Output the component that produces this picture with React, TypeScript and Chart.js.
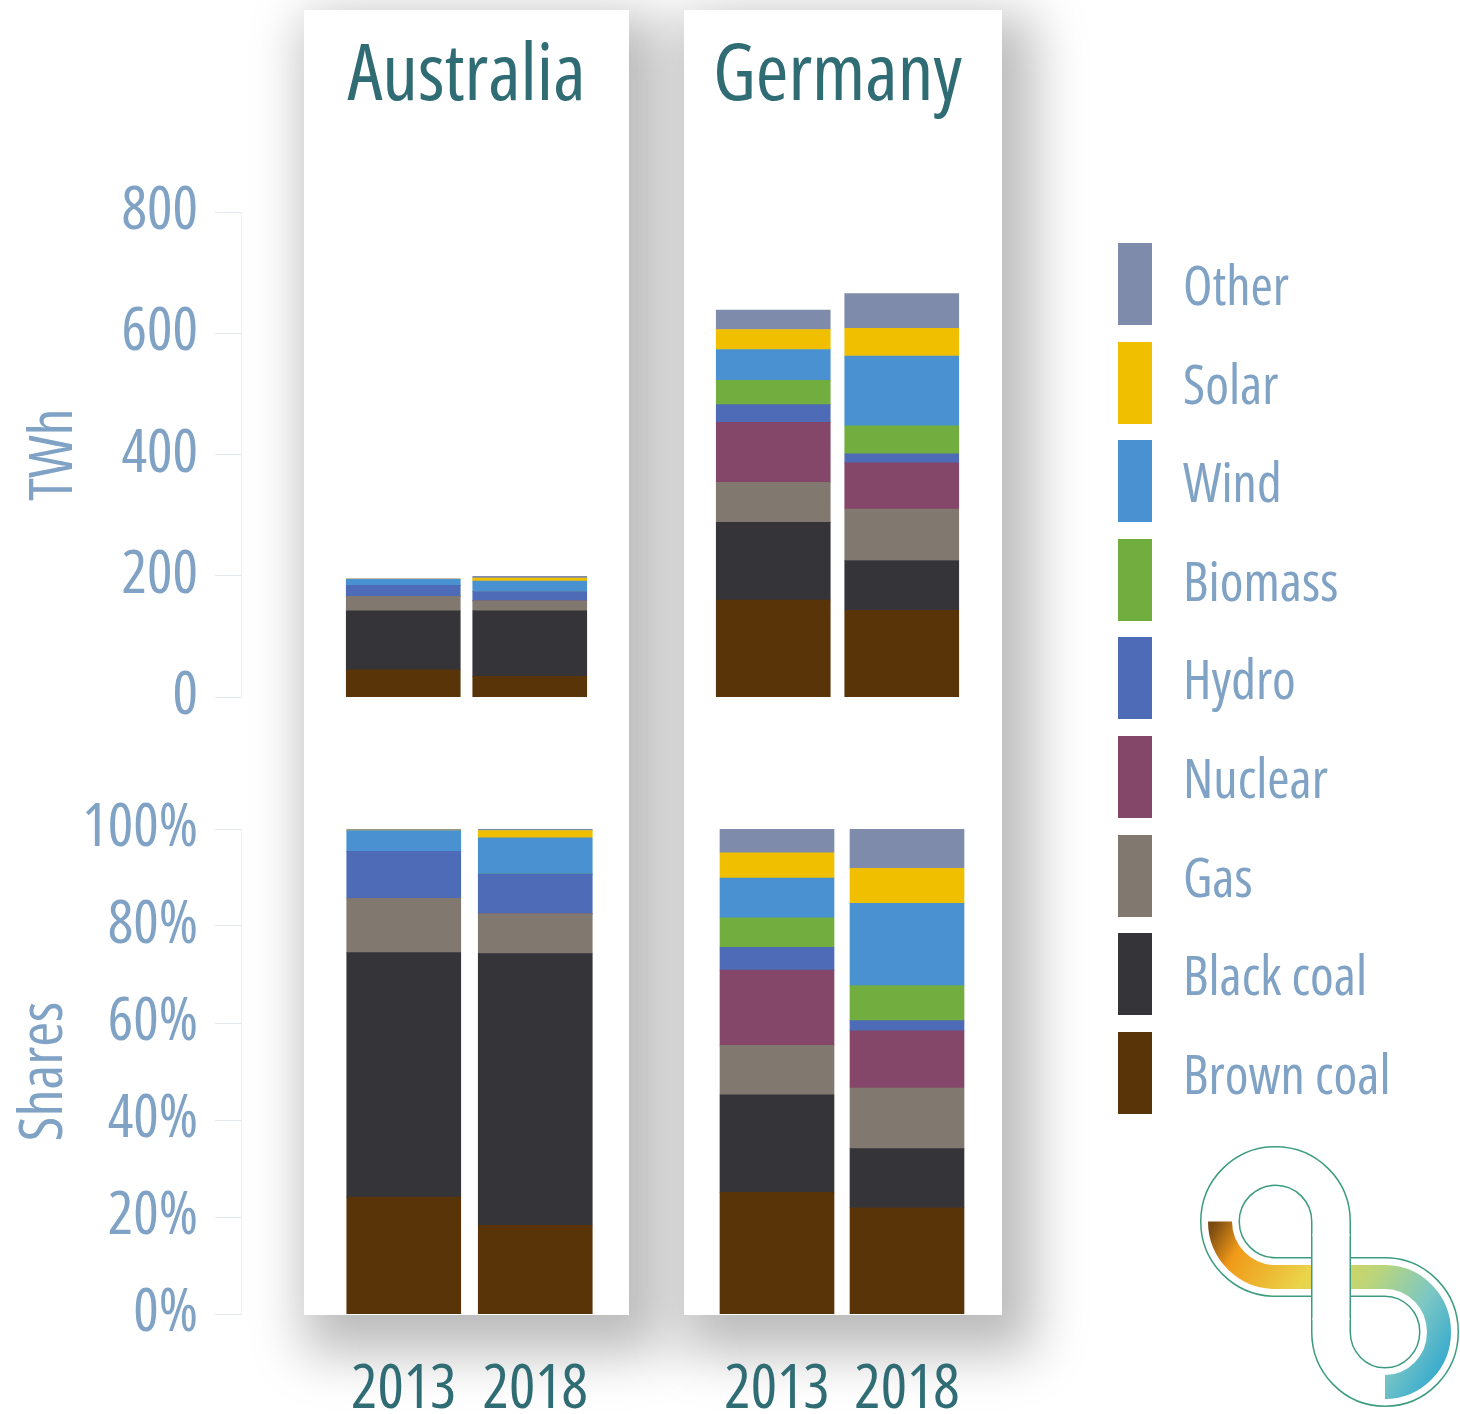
import React, { useEffect, useRef } from 'react';
import { Chart, registerables } from 'chart.js';

Chart.register(...registerables);

// ---------- data ----------
const YEARS = ['2013', '2018'];
// stacking order, bottom to top
const SOURCES = ['Brown coal', 'Black coal', 'Gas', 'Nuclear', 'Hydro', 'Biomass', 'Wind', 'Solar', 'Other'];
const COLORS = ['#5a3409', '#353539', '#817870', '#854769', '#4e6bb7', '#72ad3f', '#4a91d1', '#f0bf00', '#7f8bab'];

// generation in TWh, one value per source (same order as SOURCES)
const AUS_TWH_2013 = [45, 97, 24, 0, 18, 0, 10, 0.5, 0.5];
const AUS_TWH_2018 = [34, 108, 16.5, 0, 15.5, 0, 17, 5, 3];
const GER_TWH_2013 = [160, 128, 66, 99, 29, 40, 51, 33, 32];
const GER_TWH_2018 = [143, 82, 85, 76, 15, 46, 115, 46, 57];

// shares in %, one value per source
const AUS_SHARE_2013 = [24.1, 50.4, 11.2, 0, 9.7, 0, 4.3, 0.1, 0.2];
const AUS_SHARE_2018 = [18.3, 56.0, 8.2, 0, 8.2, 0, 7.5, 1.5, 0.3];
const GER_SHARE_2013 = [25.1, 20.1, 10.2, 15.5, 4.7, 6.1, 8.2, 5.2, 4.9];
const GER_SHARE_2018 = [21.9, 12.2, 12.5, 11.8, 2.1, 7.2, 17.0, 7.2, 8.1];

const TWH_MAX = 800;
const TWH_STEP = 200;
const SHARE_MAX = 100;
const SHARE_STEP = 20;

// ---------- styles ----------
const FAMILY = "'Open Sans', 'DejaVu Sans', sans-serif";
const STRETCH = 'condensed';
const AXIS_COLOR = '#7fa2c5';
const TEAL = '#2f6c73';

type Box = { left: number; top: number; width: number; height: number };

function ChartBox({ box, makeConfig }: { box: Box; makeConfig: () => any }) {
  const ref = useRef<HTMLCanvasElement>(null);
  useEffect(() => {
    const chart = new Chart(ref.current as HTMLCanvasElement, makeConfig());
    return () => chart.destroy();
  }, []);
  return (
    <div style={{ position: 'absolute', left: box.left, top: box.top, width: box.width, height: box.height }}>
      <canvas ref={ref} />
    </div>
  );
}

function datasets(v2013: number[], v2018: number[]) {
  return SOURCES.map((s, i) => ({
    label: s,
    data: [v2013[i], v2018[i]],
    backgroundColor: COLORS[i],
    borderWidth: 0,
    barThickness: 114,
  }));
}

function panelConfig(
  v2013: number[],
  v2018: number[],
  o: { max: number; title?: string; showX: boolean; pad: { left: number; right: number; top: number; bottom: number } }
) {
  return {
    type: 'bar',
    data: { labels: YEARS, datasets: datasets(v2013, v2018) },
    options: {
      animation: false,
      responsive: true,
      maintainAspectRatio: false,
      layout: { padding: o.pad, autoPadding: false },
      plugins: {
        legend: { display: false },
        tooltip: { enabled: false },
        title: o.title
          ? {
              display: true,
              text: o.title,
              color: TEAL,
              font: { family: FAMILY, size: 79, weight: STRETCH, lineHeight: 1.2 },
              padding: { top: 20, bottom: 87 },
            }
          : { display: false },
      },
      scales: {
        x: {
          stacked: true,
          display: o.showX,
          grid: { display: false },
          border: { display: false },
          ticks: {
            color: TEAL,
            font: { family: FAMILY, size: 62, weight: STRETCH, lineHeight: 1.2 },
            padding: 31,
            autoSkip: false,
            maxRotation: 0,
          },
          afterFit: (s: any) => {
            if (o.showX) s.height = 100;
          },
        },
        y: { stacked: true, display: false, min: 0, max: o.max },
      },
    },
  };
}

function axisConfig(o: { max: number; step: number; title: string; titlePad: number; pct: boolean; pad: { top: number; bottom: number } }) {
  return {
    type: 'bar',
    data: { labels: [], datasets: [] },
    options: {
      animation: false,
      responsive: true,
      maintainAspectRatio: false,
      layout: { padding: { left: 0, right: 0, top: o.pad.top, bottom: o.pad.bottom } },
      plugins: { legend: { display: false }, tooltip: { enabled: false } },
      scales: {
        x: { display: false },
        y: {
          min: 0,
          max: o.max,
          ticks: {
            stepSize: o.step,
            color: AXIS_COLOR,
            font: { family: FAMILY, size: 60, weight: STRETCH },
            padding: 17,
            callback: (v: any) => (o.pct ? v + '%' : String(v)),
          },
          grid: { color: '#e3e8ee', tickLength: 26, drawOnChartArea: false },
          border: { color: '#edf0f4', width: 1 },
          title: {
            display: true,
            text: o.title,
            color: AXIS_COLOR,
            font: { family: FAMILY, size: 60, weight: STRETCH, lineHeight: 1.2 },
            padding: { top: o.titlePad, bottom: 0 },
          },
          afterFit: (s: any) => {
            s.width = 241;
          },
        },
      },
    },
  };
}

function Legend() {
  const items = SOURCES.map((s, i) => ({ label: s, color: COLORS[i] })).reverse();
  return (
    <div style={{ position: 'absolute', left: 1118, top: 243 }}>
      {items.map((it) => (
        <div key={it.label} style={{ display: 'flex', alignItems: 'center', height: 82, marginBottom: 16.6 }}>
          <div style={{ width: 34, height: 82, background: it.color }} />
          <div
            style={{
              marginLeft: 31,
              fontFamily: FAMILY,
              fontStretch: STRETCH,
              fontSize: 54,
              color: AXIS_COLOR,
              lineHeight: 1,
              whiteSpace: 'nowrap',
            }}
          >
            {it.label}
          </div>
        </div>
      ))}
    </div>
  );
}

function Logo() {
  const loop =
    'M 1275.5 1277 L 1385 1277 A 54 55 0 1 1 1331 1332 L 1331 1221.5 A 55.5 55.5 0 1 0 1275.5 1277 Z';
  const band =
    'M 1220 1221.5 A 55.5 55.5 0 0 0 1275.5 1277 L 1385 1277 A 54 55 0 0 1 1439 1332 A 54 55 0 0 1 1385 1387';
  return (
    <svg width={1460} height={1414} style={{ position: 'absolute', left: 0, top: 0, pointerEvents: 'none' }}>
      <defs>
        <linearGradient id="lg" gradientUnits="userSpaceOnUse" x1="1210" y1="1230" x2="1450" y2="1370">
          <stop offset="0" stopColor="#7a4a10" />
          <stop offset="0.12" stopColor="#f09a18" />
          <stop offset="0.38" stopColor="#ead44a" />
          <stop offset="0.6" stopColor="#b9d57c" />
          <stop offset="0.8" stopColor="#7cc7c4" />
          <stop offset="1" stopColor="#2ea6cf" />
        </linearGradient>
      </defs>
      <path d={loop} fill="none" stroke="#3d9c80" strokeWidth={40} />
      <path d={loop} fill="none" stroke="#ffffff" strokeWidth={37} />
      <path d={band} fill="none" stroke="url(#lg)" strokeWidth={24} />
      <path d="M 1331 1236 L 1331 1318" fill="none" stroke="#3d9c80" strokeWidth={40} />
      <path d="M 1331 1234 L 1331 1320" fill="none" stroke="#ffffff" strokeWidth={37} />
    </svg>
  );
}

export default function App() {
  const panelShadow = '16px 22px 50px 16px rgba(0,0,0,0.27)';
  return (
    <div
      style={{
        position: 'absolute',
        left: 0,
        top: 0,
        width: 1460,
        height: 1414,
        overflow: 'hidden',
        background: '#ffffff',
      }}
    >
      <div style={{ position: 'absolute', left: 304, top: 10, width: 325, height: 1305, background: '#fff', boxShadow: panelShadow }} />
      <div style={{ position: 'absolute', left: 684, top: 10, width: 318, height: 1305, background: '#fff', boxShadow: panelShadow }} />

      <ChartBox
        box={{ left: 0, top: 150, width: 250, height: 600 }}
        makeConfig={() =>
          axisConfig({ max: TWH_MAX, step: TWH_STEP, title: 'TWh', titlePad: 19, pct: false, pad: { top: 62, bottom: 53 } })
        }
      />
      <ChartBox
        box={{ left: 0, top: 770, width: 250, height: 600 }}
        makeConfig={() =>
          axisConfig({ max: SHARE_MAX, step: SHARE_STEP, title: 'Shares', titlePad: 9, pct: true, pad: { top: 59, bottom: 56 } })
        }
      />

      <ChartBox
        box={{ left: 305, top: 10, width: 323, height: 687 }}
        makeConfig={() =>
          panelConfig(AUS_TWH_2013, AUS_TWH_2018, {
            max: TWH_MAX,
            title: 'Australia',
            showX: false,
            pad: { left: 35, right: 35, top: 0, bottom: 0 },
          })
        }
      />
      <ChartBox
        box={{ left: 683, top: 10, width: 320, height: 687 }}
        makeConfig={() =>
          panelConfig(GER_TWH_2013, GER_TWH_2018, {
            max: TWH_MAX,
            title: 'Germany',
            showX: false,
            pad: { left: 26, right: 37, top: 0, bottom: 0 },
          })
        }
      />
      <ChartBox
        box={{ left: 305, top: 809, width: 323, height: 605 }}
        makeConfig={() =>
          panelConfig(AUS_SHARE_2013, AUS_SHARE_2018, {
            max: SHARE_MAX,
            showX: true,
            pad: { left: 33, right: 27, top: 20, bottom: 0 },
          })
        }
      />
      <ChartBox
        box={{ left: 683, top: 809, width: 320, height: 605 }}
        makeConfig={() =>
          panelConfig(GER_SHARE_2013, GER_SHARE_2018, {
            max: SHARE_MAX,
            showX: true,
            pad: { left: 29, right: 31, top: 20, bottom: 0 },
          })
        }
      />

      <Legend />
      <Logo />
    </div>
  );
}
